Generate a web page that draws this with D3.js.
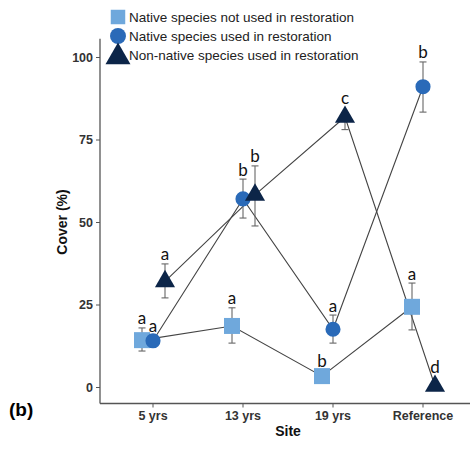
<!DOCTYPE html>
<html>
<head>
<meta charset="utf-8">
<script src="https://cdn.jsdelivr.net/npm/d3@7"></script>
<style>
  body { margin: 0; background: #fff; }
  svg { display: block; }
</style>
</head>
<body>
<svg id="chart" width="475" height="451"></svg>
<script>
// Data
const sites = ['5 yrs', '13 yrs', '19 yrs', 'Reference'];
const seriesNames = [
    'Native species not used in restoration',
    'Native species used in restoration',
    'Non-native species used in restoration'
];
const notUsedMean = [14.2, 18.5, 3.3, 24.3];
const notUsedLow = [10.9, 13.3, 3.3, 17.3];
const notUsedHigh = [17.9, 24, 3.3, 31.5];
const usedMean = [14, 57, 17.5, 91];
const usedLow = [14, 51.2, 13.3, 83.3];
const usedHigh = [14, 63, 21.8, 98.5];
const nonNativeMean = [32, 58.2, 81.8, 0.3];
const nonNativeLow = [27, 48.8, 78, 0.3];
const nonNativeHigh = [37.3, 67, 83, 0.3];
const notUsedLetters = ['a', 'a', 'b', 'a'];
const usedLetters = ['a', 'b', 'a', 'b'];
const nonNativeLetters = ['a', 'b', 'c', 'd'];
const yTicks = [0, 25, 50, 75, 100];

const COLORS = ['#6fa8dc', '#2a6ab8', '#0c2548'];
const SHAPES = [d3.symbolSquare, d3.symbolCircle, d3.symbolTriangle];
const SIZES = [256, 180, 175];
const TOP = [8, 7.5, 11.5]; // marker top above its centre
const DODGE = [-11, 0, 12];

const series = [
    { mean: notUsedMean, low: notUsedLow, high: notUsedHigh, letters: notUsedLetters },
    { mean: usedMean, low: usedLow, high: usedHigh, letters: usedLetters },
    { mean: nonNativeMean, low: nonNativeLow, high: nonNativeHigh, letters: nonNativeLetters }
];

const svg = d3.select('#chart');

const x = d3.scaleBand().domain(sites).range([108, 468]);
const y = d3.scaleLinear().domain([0, 100]).range([387, 57]);
const cx = (site, s) => x(site) + x.bandwidth() / 2 + DODGE[s];

// Axes
const axisColor = '#555';
svg.append('line')
    .attr('x1', 100).attr('x2', 100)
    .attr('y1', y(105.5)).attr('y2', 403.5)
    .attr('stroke', axisColor).attr('stroke-width', 1.3);
svg.append('line')
    .attr('x1', 100).attr('x2', 470)
    .attr('y1', 403.5).attr('y2', 403.5)
    .attr('stroke', axisColor).attr('stroke-width', 1.3);

const yAxis = svg.append('g')
    .attr('transform', 'translate(100,0)')
    .call(d3.axisLeft(y).tickValues(yTicks).tickSize(4).tickPadding(3));
yAxis.select('.domain').remove();

const xAxis = svg.append('g')
    .attr('transform', 'translate(0,403.5)')
    .call(d3.axisBottom(x).tickSize(4).tickPadding(4));
xAxis.select('.domain').remove();

svg.selectAll('.tick line').attr('stroke', axisColor);
svg.selectAll('.tick text')
    .attr('font-family', 'Liberation Sans, Arial, sans-serif')
    .attr('font-size', 12.5)
    .attr('font-weight', 'bold')
    .attr('fill', '#333');

svg.append('text')
    .attr('transform', 'translate(67,222) rotate(-90)')
    .attr('text-anchor', 'middle')
    .attr('font-family', 'Liberation Sans, Arial, sans-serif')
    .attr('font-size', 14)
    .attr('font-weight', 'bold')
    .attr('fill', '#111')
    .text('Cover (%)');

svg.append('text')
    .attr('x', 288).attr('y', 436)
    .attr('text-anchor', 'middle')
    .attr('font-family', 'Liberation Sans, Arial, sans-serif')
    .attr('font-size', 14)
    .attr('font-weight', 'bold')
    .attr('fill', '#111')
    .text('Site');

svg.append('text')
    .attr('x', 9).attr('y', 416)
    .attr('font-family', 'Liberation Sans, Arial, sans-serif')
    .attr('font-size', 19)
    .attr('font-weight', 'bold')
    .attr('fill', '#000')
    .text('(b)');

// Lines
const line = d3.line();
series.forEach((sr, s) => {
    svg.append('path')
        .datum(sites.map((site, i) => [cx(site, s), y(sr.mean[i])]))
        .attr('d', line)
        .attr('fill', 'none')
        .attr('stroke', '#444')
        .attr('stroke-width', 1.1);
});

// Error bars
series.forEach((sr, s) => {
    const g = svg.append('g').attr('stroke', '#666').attr('stroke-width', 1.1);
    sites.forEach((site, i) => {
        if (sr.high[i] - sr.low[i] < 0.5) return;
        const px = cx(site, s);
        g.append('line').attr('x1', px).attr('x2', px)
            .attr('y1', y(sr.low[i])).attr('y2', y(sr.high[i]));
        [sr.low[i], sr.high[i]].forEach(v => {
            g.append('line').attr('x1', px - 3.5).attr('x2', px + 3.5)
                .attr('y1', y(v)).attr('y2', y(v));
        });
    });
});

// Markers
series.forEach((sr, s) => {
    svg.append('g').selectAll('path')
        .data(sites)
        .join('path')
        .attr('transform', (site, i) => `translate(${cx(site, s)},${y(sr.mean[i])})`)
        .attr('d', d3.symbol().type(SHAPES[s]).size(SIZES[s]))
        .attr('fill', COLORS[s]);
});

// Significance letters
series.forEach((sr, s) => {
    svg.append('g').selectAll('text')
        .data(sites)
        .join('text')
        .attr('x', (site, i) => cx(site, s))
        .attr('y', (site, i) => Math.min(y(sr.high[i]) - 3.5, y(sr.mean[i]) - TOP[s] - 1.5))
        .attr('text-anchor', 'middle')
        .attr('font-family', 'Lato, Open Sans, sans-serif')
        .attr('font-size', 17)
        .attr('fill', '#111')
        .text((site, i) => sr.letters[i]);
});

// Legend
const legend = svg.append('g');
seriesNames.forEach((name, s) => {
    const ly = 17 + s * 19;
    legend.append('path')
        .attr('transform', `translate(118,${ly + (s === 2 ? 2 : 0)})`)
        .attr('d', d3.symbol().type(SHAPES[s]).size([210, 200, 270][s]))
        .attr('fill', COLORS[s]);
    legend.append('text')
        .attr('x', 129).attr('y', ly + 5)
        .attr('font-family', 'Liberation Sans, Arial, sans-serif')
        .attr('font-size', 13.5)
        .attr('fill', '#222')
        .text(name);
});
</script>
</body>
</html>
